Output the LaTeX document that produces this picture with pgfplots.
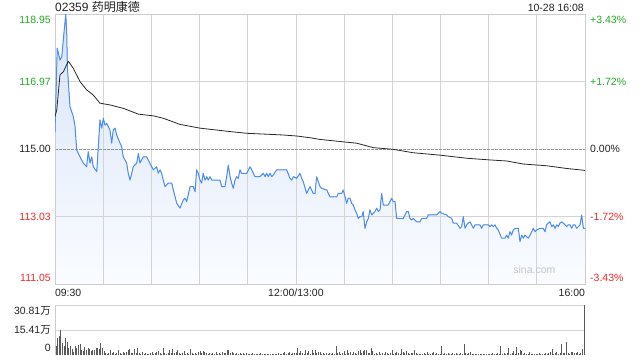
\documentclass[border=0pt]{standalone}
\usepackage{pgfplots}
\pgfplotsset{compat=1.18}
\usepackage{pgfplotstable}
\usepgfplotslibrary{fillbetween}
\usepackage{fontspec}
\setmainfont{Liberation Sans}
\newfontfamily\cjk{Noto Sans CJK SC}
\definecolor{upg}{RGB}{34,170,34}
\definecolor{dnr}{RGB}{238,40,40}
\definecolor{lineblue}{RGB}{77,141,240}
\definecolor{gridc}{RGB}{212,212,212}
\definecolor{framec}{RGB}{205,205,205}
\definecolor{txt}{RGB}{34,34,34}
\definecolor{avgc}{RGB}{40,40,40}
\definecolor{volc}{RGB}{90,90,90}
\definecolor{filltop}{RGB}{216,228,250}
\definecolor{fillbot}{RGB}{250,252,255}

\pgfplotstableread{
m p
0 115.50
1.4 117.95
3.1 117.60
4.2 117.70
6.7 118.95
7.3 118.39
7.7 117.41
9.3 116.24
11.4 115.95
12.5 115.65
13.5 114.97
15.6 114.77
16.6 114.68
17.6 114.59
19.7 114.48
20.7 114.92
21.8 114.59
22.9 114.77
23.8 114.48
26.0 114.34
28.0 115.85
29.1 115.61
30.1 115.90
31.1 115.70
32.2 115.75
34.2 115.56
35.3 115.17
36.3 115.56
37.4 115.61
38.4 115.41
40.5 115.17
41.5 115.07
42.5 114.77
44.6 114.59
45.6 114.29
46.7 114.09
47.8 114.29
48.7 114.48
50.9 114.59
51.9 114.87
52.9 114.59
55.0 114.77
57.1 114.77
59.1 114.58
61.2 114.39
63.3 114.48
64.3 114.29
65.4 114.39
66.4 114.29
67.4 114.09
68.5 113.90
70.5 114.00
72.7 114.00
73.7 113.80
75.8 113.41
77.8 113.27
79.9 113.51
80.9 113.56
82.0 113.46
84.1 113.90
86.1 113.90
87.2 113.75
88.2 114.39
89.2 114.29
90.3 114.09
91.3 114.00
92.3 114.29
93.4 114.09
94.5 114.19
95.4 114.09
96.5 114.19
97.6 114.09
102.7 114.09
103.8 113.90
105.8 113.90
106.9 114.19
107.9 114.53
109.0 114.19
110.0 114.00
111.0 113.85
112.1 114.09
113.1 114.19
114.1 114.14
115.2 114.39
116.2 114.29
119.4 114.29
121.4 114.48
122.5 114.39
124.5 114.19
127.6 114.19
129.7 114.29
130.8 114.19
131.8 114.29
132.8 114.19
133.9 114.29
134.9 114.19
135.9 114.24
138.0 114.39
144.3 114.39
146.3 114.14
147.4 114.09
148.4 114.19
150.5 114.14
152.5 114.29
153.6 114.14
154.6 114.04
156.7 113.70
157.7 113.80
158.8 113.90
160.8 113.70
161.9 113.70
162.9 114.19
165.0 113.90
166.1 113.85
169.2 113.80
171.2 113.60
175.4 113.60
176.4 113.70
178.5 113.70
179.5 113.80
180.6 113.60
181.6 113.41
182.6 113.56
183.7 113.56
184.7 113.41
185.7 113.36
186.8 113.22
187.8 113.12
188.8 112.97
189.9 113.02
191.0 113.02
191.9 113.17
193.0 112.68
194.1 112.87
195.1 112.97
196.1 113.22
197.2 113.07
198.2 113.12
199.2 113.17
200.3 113.27
201.3 113.17
202.4 113.22
203.4 113.70
204.4 113.36
205.5 113.36
207.5 113.36
208.6 113.46
209.6 113.56
210.6 113.46
211.7 113.46
212.7 112.97
216.9 112.97
217.9 113.07
219.0 113.17
220.0 113.17
221.0 112.97
222.1 112.92
223.1 112.97
224.1 112.92
225.2 112.87
227.3 112.87
228.3 112.97
231.4 112.97
232.4 113.07
237.6 113.07
239.7 113.17
240.8 113.12
243.9 113.07
244.9 113.02
247.0 112.97
248.0 112.83
250.1 112.83
252.2 112.68
253.2 112.73
254.2 113.02
255.3 112.68
256.3 112.78
257.3 112.83
258.4 112.87
259.4 112.78
260.5 112.68
261.5 112.78
264.6 112.78
265.6 112.68
266.7 112.78
269.8 112.78
270.8 112.73
271.9 112.78
272.9 112.73
274.0 112.78
275.0 112.68
276.0 112.63
278.1 112.39
280.2 112.39
281.2 112.48
282.2 112.39
283.3 112.58
284.3 112.48
285.3 112.63
286.4 112.68
288.5 112.68
289.5 112.29
290.6 112.48
291.6 112.39
292.6 112.48
294.7 112.39
295.8 112.48
296.8 112.58
297.8 112.68
298.9 112.58
299.9 112.63
302.0 112.68
304.0 112.68
305.1 112.58
306.1 112.78
307.1 112.83
308.2 112.87
309.3 112.73
310.3 112.78
311.3 112.68
312.4 112.78
313.4 112.73
314.4 112.83
315.5 112.87
316.5 112.83
318.6 112.73
319.6 112.78
320.7 112.78
321.7 112.68
322.7 112.78
323.8 112.78
324.8 112.68
325.9 112.73
326.9 112.78
327.9 113.07
329.0 112.68
330 112.68
}\pricetab

\pgfplotstableread{
m a
0 115.95
1.1 116.14
3.1 117.17
5.2 117.26
8.3 117.57
11.4 117.36
15.6 116.97
19.7 116.73
23.8 116.58
28.0 116.34
34.2 116.29
42.5 116.19
51.9 116.02
61.2 115.97
67.4 115.90
77.8 115.72
90.3 115.61
109.0 115.51
119.4 115.46
142.1 115.41
150.5 115.38
158.8 115.33
165.0 115.28
179.5 115.21
187.8 115.17
198.2 115.04
210.6 114.99
223.1 114.89
239.7 114.82
256.3 114.73
270.8 114.68
281.2 114.65
291.6 114.56
306.1 114.51
318.6 114.43
329.0 114.38
330 114.37
}\avgtab

\newcommand{\lbl}[2]{\raisebox{#1}{#2}}

\begin{document}
\begin{tikzpicture}
\path (0pt,0pt) rectangle (640pt,360pt);

\node[anchor=base west, inner sep=0pt, text=txt, font=\fontsize{12}{14}\selectfont] at (55pt,348.3pt) {02359 {\cjk 药明康德}};
\node[anchor=base east, inner sep=0pt, text=txt, font=\fontsize{10.5}{12}\selectfont] at (584pt,348.3pt) {10-28 16:08};

\begin{axis}[
  at={(55pt,76pt)}, anchor=south west, scale only axis,
  width=530pt, height=270pt,
  xmin=0, xmax=330, ymin=111.05, ymax=118.95,
  set layers,
  fill between/on layer=axis background,
  axis line style={framec, line width=0.8pt},
  xtick={0,30,...,330},
  xticklabels={\makebox[0pt][l]{09:30},,,,,12:00/13:00,,,,,,\makebox[0pt][r]{16:00}},
  ytick={111.05,113.03,116.97,118.95},
  yticklabels={\textcolor{dnr}{\lbl{2.25pt}{111.05}},\textcolor{dnr}{\lbl{-3.75pt}{113.03}},\textcolor{upg}{\lbl{-3.75pt}{116.97}},\textcolor{upg}{\lbl{-9.75pt}{118.95}}},
  extra y ticks={115},
  extra y tick labels={\textcolor{txt}{\lbl{-3.75pt}{115.00}}},
  extra y tick style={grid style={color=gray!80, dash pattern=on 2.5pt off 1.5pt, line width=0.7pt}},
  xmajorgrids, ymajorgrids,
  grid style={draw=gridc, solid, line width=0.8pt},
  major tick length=0pt,
  tick label style={font=\fontsize{10.5}{12}\selectfont},
  yticklabel style={anchor=base east, inner sep=0pt, xshift=-4pt},
  xticklabel style={anchor=base, inner sep=0pt, yshift=-12.75pt, text=txt},
]
\addplot[name path=P, draw=none, forget plot] table[x=m,y=p] {\pricetab};
\addplot[name path=B, draw=none, forget plot] coordinates {(0,111.05) (330,111.05)};
\addplot[top color=filltop, bottom color=fillbot, draw=none] fill between[of=P and B];
\addplot[lineblue, line width=1pt, line join=round] table[x=m,y=p] {\pricetab};
\addplot[avgc, line width=0.8pt, line join=round] table[x=m,y=a] {\avgtab};
\node[text=gray!45, font=\fontsize{10.5}{12}\selectfont, anchor=base] at (axis cs:298.5,111.35) {sina.com};
\end{axis}

\begin{axis}[
  at={(55pt,76pt)}, anchor=south west, scale only axis,
  width=530pt, height=270pt,
  xmin=0, xmax=330, ymin=-3.43, ymax=3.43,
  hide x axis, axis y line*=right, axis line style={draw=none},
  ytick={-3.43,-1.72,0,1.72,3.43},
  yticklabels={\textcolor{dnr}{\lbl{2.25pt}{-3.43\%}},\textcolor{dnr}{\lbl{-3.75pt}{-1.72\%}},\textcolor{txt}{\lbl{-3.75pt}{0.00\%}},\textcolor{upg}{\lbl{-3.75pt}{+1.72\%}},\textcolor{upg}{\lbl{-9.75pt}{+3.43\%}}},
  major tick length=0pt,
  tick label style={font=\fontsize{10.5}{12}\selectfont},
  yticklabel style={anchor=base west, inner sep=0pt, xshift=5pt},
]
\addplot[draw=none] coordinates {(0,-3.43) (330,3.43)};
\end{axis}

\begin{axis}[
  at={(55pt,5pt)}, anchor=south west, scale only axis,
  width=530pt, height=50pt,
  xmin=-0.6, xmax=330.6, ymin=0, ymax=30.81,
  hide x axis, axis y line*=left,
  axis line style={framec, line width=0.8pt},
  ytick={15.41,30.81},
  yticklabels={\lbl{-3.75pt}{15.41{\cjk 万}},\lbl{-9.4pt}{30.81{\cjk 万}}},
  extra y ticks={0}, extra y tick labels={\lbl{3.25pt}{0}},
  extra y tick style={grid=none},
  ymajorgrids,
  grid style={draw=gridc, solid, line width=0.8pt},
  major tick length=0pt,
  tick label style={font=\fontsize{10.5}{12}\selectfont, text=txt},
  yticklabel style={anchor=base east, inner sep=0pt, xshift=-4pt},
]
\addplot[ycomb, volc, line width=0.9pt] coordinates {
(0,5.8)(1,10.7)(2,11.7)(3,15.4)(4,7.2)(5,5.8)(6,10.7)(7,7.8)(8,4.5)(9,5.8)
(10,3.7)(11,2.0)(12,5.8)(13,4.5)(14,6.2)(15,6.6)(16,3.1)(17,2.5)(18,5.1)(19,3.1)
(20,4.5)(21,3.7)(22,2.5)(23,3.1)(24,3.1)(25,4.1)(26,4.5)(27,3.7)(28,7.2)(29,4.1)
(30,2.5)(31,1.2)(32,0.8)(33,1.5)(34,3.1)(35,1.0)(36,1.8)(37,0.9)(38,1.4)(39,3.1)
(40,1.2)(41,0.7)(42,1.6)(43,1.1)(44,1.9)(45,3.1)(46,3.7)(47,1.0)(48,1.5)(49,3.7)
(50,1.2)(51,4.1)(52,1.4)(53,0.8)(54,2.1)(55,0.6)(56,1.1)(57,0.5)(58,0.9)(59,1.3)
(60,2.1)(61,0.7)(62,1.0)(63,2.1)(64,2.5)(65,1.2)(66,0.8)(67,4.1)(68,1.5)(69,0.9)
(70,1.1)(71,3.1)(72,1.3)(73,3.7)(74,1.0)(75,1.6)(76,2.9)(77,1.2)(78,0.8)(79,1.4)
(80,2.5)(81,0.9)(82,1.2)(83,0.6)(84,3.7)(85,1.1)(86,0.7)(87,1.3)(88,0.9)(89,2.1)
(90,2.5)(91,1.4)(92,2.5)(93,2.1)(94,1.0)(95,0.6)(96,1.2)(97,0.8)(98,1.1)(99,0.5)
(100,2.1)(101,0.9)(102,1.3)(103,0.7)(104,2.1)(105,1.0)(106,1.5)(107,3.3)(108,2.9)(109,1.4)
(110,2.1)(111,1.0)(112,0.6)(113,1.2)(114,0.8)(115,1.3)(116,0.5)(117,1.0)(118,0.7)(119,1.1)
(120,0.6)(121,0.9)(122,0.5)(123,1.0)(124,0.7)(125,0.4)(126,0.8)(127,0.6)(128,1.0)(129,0.5)
(130,0.7)(131,0.9)(132,0.4)(133,0.8)(134,0.6)(135,0.5)(136,0.9)(137,0.6)(138,0.7)(139,1.0)
(140,0.5)(141,0.8)(142,1.2)(143,2.1)(144,0.9)(145,1.3)(146,2.1)(147,0.7)(148,1.1)(149,1.5)
(150,1.2)(151,4.1)(152,1.0)(153,2.5)(154,1.4)(155,0.8)(156,2.9)(157,1.2)(158,2.5)(159,0.9)
(160,2.9)(161,1.1)(162,3.3)(163,1.0)(164,2.1)(165,2.1)(166,0.8)(167,1.3)(168,0.6)(169,1.0)
(170,0.5)(171,1.2)(172,0.7)(173,1.0)(174,0.9)(175,5.8)(176,1.1)(177,2.1)(178,0.6)(179,1.4)
(180,2.5)(181,0.9)(182,2.9)(183,1.0)(184,2.1)(185,0.8)(186,2.1)(187,1.2)(188,0.7)(189,2.5)
(190,2.9)(191,1.0)(192,2.5)(193,2.9)(194,3.1)(195,1.3)(196,1.0)(197,4.1)(198,2.5)(199,0.8)
(200,1.2)(201,0.6)(202,2.1)(203,0.9)(204,1.1)(205,0.7)(206,2.1)(207,1.0)(208,0.6)(209,1.3)
(210,2.9)(211,0.8)(212,1.1)(213,2.1)(214,1.4)(215,0.9)(216,3.5)(217,2.1)(218,1.0)(219,2.5)
(220,1.2)(221,0.7)(222,1.4)(223,1.0)(224,3.3)(225,1.1)(226,0.6)(227,0.9)(228,0.5)(229,0.8)
(230,1.2)(231,0.6)(232,2.1)(233,0.9)(234,0.5)(235,1.0)(236,1.6)(237,0.7)(238,1.1)(239,0.5)
(240,0.9)(241,5.3)(242,0.8)(243,1.2)(244,0.6)(245,1.2)(246,0.9)(247,0.5)(248,1.1)(249,0.7)
(250,1.2)(251,0.9)(252,0.6)(253,1.0)(254,0.8)(255,6.6)(256,1.2)(257,0.7)(258,1.0)(259,1.6)
(260,0.9)(261,0.5)(262,0.8)(263,0.6)(264,0.9)(265,0.4)(266,0.7)(267,0.5)(268,0.8)(269,0.6)
(270,0.9)(271,0.5)(272,0.7)(273,1.0)(274,0.6)(275,0.8)(276,1.1)(277,0.7)(278,5.3)(279,0.9)
(280,1.2)(281,0.6)(282,1.0)(283,4.1)(284,0.8)(285,1.3)(286,2.5)(287,0.9)(288,4.9)(289,1.1)
(290,3.3)(291,2.5)(292,0.8)(293,1.2)(294,0.6)(295,0.9)(296,1.6)(297,0.7)(298,0.5)(299,0.9)
(300,0.6)(301,0.8)(302,1.1)(303,0.6)(304,0.9)(305,0.7)(306,1.0)(307,0.6)(308,1.2)(309,2.1)
(310,3.7)(311,0.9)(312,1.1)(313,1.6)(314,0.8)(315,1.3)(316,6.6)(317,1.0)(318,1.4)(319,7.8)
(320,1.2)(321,0.9)(322,2.1)(323,1.6)(324,1.0)(325,1.3)(326,1.6)(327,0.9)(328,1.2)(329,3.7)
(330,30.81)
};
\end{axis}
\end{tikzpicture}
\end{document}
